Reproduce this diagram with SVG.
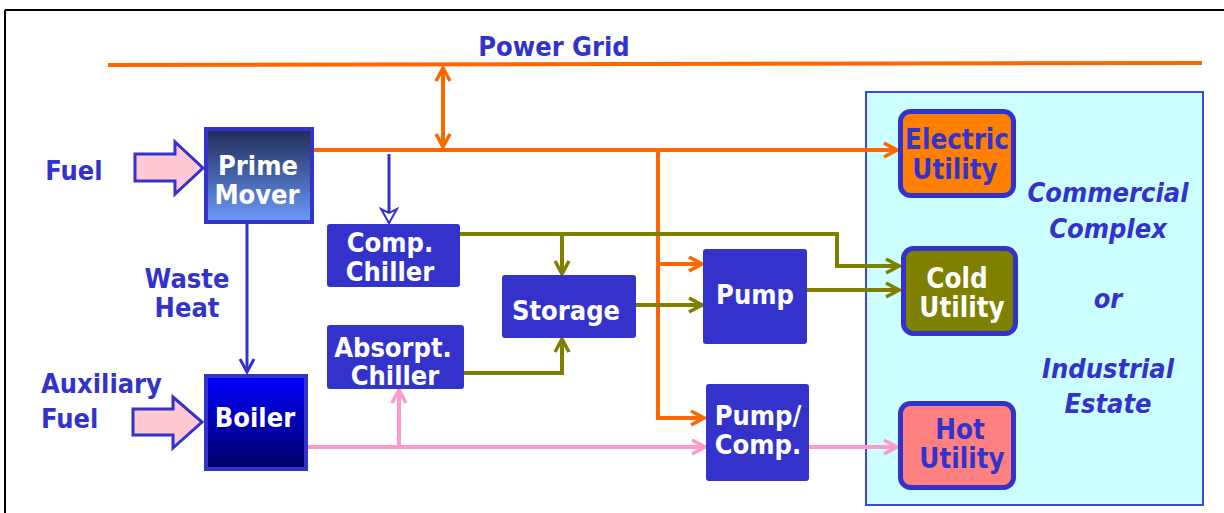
<svg xmlns="http://www.w3.org/2000/svg" width="1224" height="513" viewBox="0 0 1224 513">
<style>
text{font-family:"DejaVu Sans Condensed","DejaVu Sans",sans-serif;font-weight:bold;font-size:27px;text-anchor:middle}
.lbl{fill:#3333cc}
.wt{fill:#ffffff}
.it{fill:#3333cc;font-style:italic}
.ut{font-size:27.5px}
.box{fill:#3333cc}
.or{stroke:#ff6600;stroke-width:4;fill:none}
.ol{stroke:#808000;stroke-width:4;fill:none}
.pk{stroke:#ff99cc;stroke-width:4;fill:none}
.bl{stroke:#3333cc;stroke-width:3;fill:none}
.blk{fill:#ffc8d2;stroke:#3333cc;stroke-width:3;stroke-linejoin:miter}
</style>
<defs>
<linearGradient id="gPM" x1="0" y1="0" x2="0" y2="1"><stop offset="0" stop-color="#1f2b57"/><stop offset="1" stop-color="#6b9bfb"/></linearGradient>
<linearGradient id="gB" x1="0" y1="0" x2="0" y2="1"><stop offset="0" stop-color="#0000ff"/><stop offset="1" stop-color="#000066"/></linearGradient>
<marker id="aO" markerUnits="userSpaceOnUse" markerWidth="18" markerHeight="18" viewBox="0 0 18 18" refX="16" refY="9" orient="auto-start-reverse"><path d="M3,2 L16,9 L3,16" fill="none" stroke="#ff6600" stroke-width="3.5"/></marker>
<marker id="aL" markerUnits="userSpaceOnUse" markerWidth="18" markerHeight="18" viewBox="0 0 18 18" refX="16" refY="9" orient="auto"><path d="M3,2 L16,9 L3,16" fill="none" stroke="#808000" stroke-width="3.5"/></marker>
<marker id="aP" markerUnits="userSpaceOnUse" markerWidth="18" markerHeight="18" viewBox="0 0 18 18" refX="16" refY="9" orient="auto"><path d="M3,2 L16,9 L3,16" fill="none" stroke="#ff99cc" stroke-width="3.5"/></marker>
<marker id="aB" markerUnits="userSpaceOnUse" markerWidth="18" markerHeight="18" viewBox="0 0 18 18" refX="16" refY="9" orient="auto"><path d="M3,2 L16,9 L3,16" fill="none" stroke="#3333cc" stroke-width="3"/></marker>
<marker id="aT" markerUnits="userSpaceOnUse" markerWidth="18" markerHeight="20" viewBox="0 0 18 20" refX="16" refY="10" orient="auto"><path d="M2,2 L16,10 L2,18 L6,10 Z" fill="#ffffff" stroke="#3333cc" stroke-width="2"/></marker>
</defs>

<path d="M5,10 H1224 M5,10 V513" stroke="#000" stroke-width="2" fill="none"/>

<g id="site">
<rect x="866" y="92" width="337" height="413" fill="#ccffff" stroke="#4444dd" stroke-width="2"/>
<text class="it" x="1108" y="202">Commercial</text>
<text class="it" x="1108" y="238">Complex</text>
<text class="it" x="1108" y="308">or</text>
<text class="it" x="1108" y="378">Industrial</text>
<text class="it" x="1108" y="413">Estate</text>
</g>

<g id="connectors">
<path class="or" d="M108,65 L1202,63"/>
<path class="or" d="M443,68 V147" marker-start="url(#aO)" marker-end="url(#aO)"/>
<path class="or" d="M314,150 H897" marker-end="url(#aO)"/>
<path class="or" d="M658,150 V418 H704" marker-end="url(#aO)"/>
<path class="or" d="M658,264 H702" marker-end="url(#aO)"/>
<path class="bl" d="M389,154 V223" marker-end="url(#aT)"/>
<path class="bl" d="M247,224 V372" marker-end="url(#aB)"/>
<path class="ol" d="M460,234 H837 V266 H899" marker-end="url(#aL)"/>
<path class="ol" d="M562,234 V274" marker-end="url(#aL)"/>
<path class="ol" d="M464,373 H562 V339" marker-end="url(#aL)"/>
<path class="ol" d="M636,305 H702" marker-end="url(#aL)"/>
<path class="ol" d="M807,290 H899" marker-end="url(#aL)"/>
<path class="pk" d="M308,447 H705" marker-end="url(#aP)"/>
<path class="pk" d="M399,447 V390" marker-end="url(#aP)"/>
<path class="pk" d="M809,447 H897" marker-end="url(#aP)"/>
</g>

<g id="powergrid"><text class="lbl" x="554" y="56">Power Grid</text></g>

<g id="fuel">
<polygon class="blk" points="135,154 175,154 175,142 203,168 175,194 175,181 135,181"/>
<text class="lbl" x="74" y="180">Fuel</text>
</g>

<g id="auxfuel">
<polygon class="blk" points="133,409 173,409 173,397 202,422 173,448 173,435 133,435"/>
<text class="lbl" x="41" y="393" style="text-anchor:start">Auxiliary</text>
<text class="lbl" x="41" y="428" style="text-anchor:start">Fuel</text>
</g>

<g id="wasteheat">
<text class="lbl" x="187" y="288">Waste</text>
<text class="lbl" x="187" y="317">Heat</text>
</g>

<g id="primemover">
<rect x="206" y="129" width="106" height="93" fill="url(#gPM)" stroke="#3333cc" stroke-width="4"/>
<text class="wt" x="258" y="175">Prime</text>
<text class="wt" x="257" y="204">Mover</text>
</g>

<g id="boiler">
<rect x="206" y="376" width="100" height="93" fill="url(#gB)" stroke="#3333cc" stroke-width="4"/>
<text class="wt" x="255" y="427">Boiler</text>
</g>

<g id="compchiller">
<rect class="box" x="327" y="224" width="133" height="63" rx="3"/>
<text class="wt" x="390" y="252">Comp.</text>
<text class="wt" x="390" y="281">Chiller</text>
</g>

<g id="absorptchiller">
<rect class="box" x="327" y="325" width="137" height="64" rx="3"/>
<text class="wt" x="393" y="357">Absorpt.</text>
<text class="wt" x="395" y="385">Chiller</text>
</g>

<g id="storage">
<rect class="box" x="502" y="275" width="134" height="63" rx="3"/>
<text class="wt" x="566" y="320">Storage</text>
</g>

<g id="pump">
<rect class="box" x="703" y="249" width="104" height="95" rx="3"/>
<text class="wt" x="755" y="304">Pump</text>
</g>

<g id="pumpcomp">
<rect class="box" x="706" y="384" width="103" height="97" rx="3"/>
<text class="wt" x="758" y="425">Pump/</text>
<text class="wt" x="758" y="454">Comp.</text>
</g>

<g id="electric">
<rect x="900.5" y="111.5" width="113" height="84" rx="10" fill="#ff8000" stroke="#3333cc" stroke-width="5"/>
<text class="lbl ut" x="957" y="149">Electric</text>
<text class="lbl ut" x="955" y="179">Utility</text>
</g>

<g id="cold">
<rect x="903.5" y="248.5" width="112" height="85" rx="10" fill="#808000" stroke="#3333cc" stroke-width="5"/>
<text class="wt ut" x="957" y="288">Cold</text>
<text class="wt ut" x="962" y="317">Utility</text>
</g>

<g id="hot">
<rect x="900.5" y="403.5" width="113" height="84" rx="10" fill="#ff8080" stroke="#3333cc" stroke-width="5"/>
<text class="lbl ut" x="960" y="439">Hot</text>
<text class="lbl ut" x="962" y="468">Utility</text>
</g>
</svg>
